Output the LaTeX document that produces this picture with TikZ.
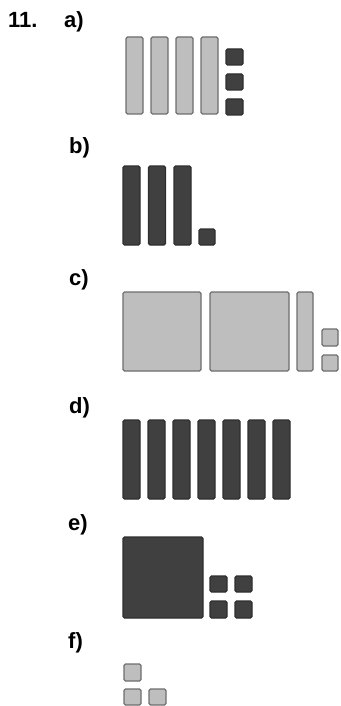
\documentclass[tikz,border=0pt]{standalone}
\usepackage{fontspec}
\setmainfont{Liberation Sans}
\begin{document}
\begin{tikzpicture}[x=1pt,y=-1pt,
  lightblk/.style={fill=lgray,draw=bgray,line width=1.2pt,rounded corners=1.5pt},
  darkblk/.style={fill=dgray,draw=dedge,line width=1.2pt,rounded corners=1.5pt},
  lbl/.style={font=\bfseries\fontsize{22}{22}\selectfont,inner sep=0pt,anchor=base west}]
\definecolor{lgray}{HTML}{BEBEBE}
\definecolor{bgray}{HTML}{6E6E6E}
\definecolor{dgray}{HTML}{404040}
\definecolor{dedge}{HTML}{2E2E2E}
\useasboundingbox (0,0) rectangle (340,706);
% labels
\node[lbl] (n11) at (8,28) {11.};
\node[lbl] (la) at (64,28) {a)};
\node[lbl] (lb) at (69,153) {b)};
\node[lbl] (lc) at (69,285) {c)};
\node[lbl] (ld) at (69,413) {d)};
\node[lbl] (le) at (68,530) {e)};
\node[lbl] (lf) at (68,648) {f)};
% a)
\foreach \i in {0,1,2,3} {\draw[lightblk] (126+25*\i,37) rectangle (143+25*\i,114);}
\foreach \j in {0,1,2} {\draw[darkblk] (226,49+25*\j) rectangle (243,65+25*\j);}
% b)
\foreach \i in {0,1,2} {\draw[darkblk] (123+25.5*\i,166) rectangle (140+25.5*\i,245);}
\draw[darkblk] (199,229) rectangle (215,245);
% c)
\draw[lightblk] (123,292) rectangle (201,371);
\draw[lightblk] (210,292) rectangle (289,371);
\draw[lightblk] (297,292) rectangle (313,371);
\draw[lightblk] (322,329) rectangle (338,346);
\draw[lightblk] (322,355) rectangle (338,371);
% d)
\foreach \i in {0,...,6} {\draw[darkblk] (123+25*\i,420) rectangle (140+25*\i,499);}
% e)
\draw[darkblk] (123,537) rectangle (203,618);
\draw[darkblk] (210,576) rectangle (227,592);
\draw[darkblk] (235,576) rectangle (252,592);
\draw[darkblk] (210,601) rectangle (227,618);
\draw[darkblk] (235,601) rectangle (252,618);
% f)
\draw[lightblk] (124,664) rectangle (141,681);
\draw[lightblk] (124,689) rectangle (141,705);
\draw[lightblk] (149,689) rectangle (166,705);
\end{tikzpicture}
\end{document}
